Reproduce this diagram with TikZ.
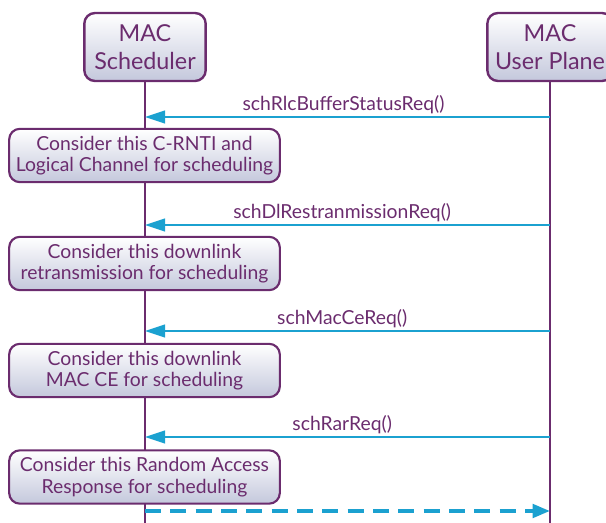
\documentclass[tikz,border=0pt]{standalone}
\usepackage{fontspec}
\setmainfont{Lato}
\usetikzlibrary{arrows.meta}
\definecolor{macpurple}{HTML}{6B2C6E}
\definecolor{msgblue}{HTML}{1BA1D0}
\definecolor{boxbottom}{HTML}{C4C8DC}
\tikzset{
  entity/.style={draw=macpurple,line width=1.8pt,rounded corners=8pt,top color=white,bottom color=boxbottom,
    text=macpurple,align=center,font=\fontsize{17.5}{21.5}\selectfont,minimum height=51pt,inner sep=0pt},
  action/.style={draw=macpurple,line width=1.6pt,rounded corners=8pt,top color=white,bottom color=boxbottom,
    text=macpurple,align=center,font=\fontsize{14.5}{16}\selectfont,minimum width=203pt,minimum height=40pt,inner sep=0pt},
  lifeline/.style={draw=macpurple,line width=1.5pt},
  msg/.style={draw=msgblue,line width=1.5pt,-{Triangle[length=15pt,width=9.5pt]}},
  msglabel/.style={text=macpurple,font=\fontsize{14.5}{16}\selectfont,above,inner sep=1.5pt},
}
\begin{document}
\begin{tikzpicture}[x=0.75pt,y=-0.75pt]
\clip (0,0) rectangle (606,523);
\useasboundingbox (0,0) rectangle (606,523);
% the two lifelines
\coordinate (schbot) at (145,530);
\coordinate (upbot) at (550,530);
\draw[lifeline] (145,81) -- (schbot);
\draw[lifeline] (550,81) -- (upbot);
\node[entity,minimum width=91pt] (sched) at (145,47) {MAC\\Scheduler};
\node[entity,minimum width=94pt] (uplane) at (550,47) {MAC\\User Plane};
% requests from the user plane
\coordinate (up1) at (550,117); \coordinate (sch1) at (145,117);
\coordinate (up2) at (550,225); \coordinate (sch2) at (145,225);
\coordinate (up3) at (550,331); \coordinate (sch3) at (145,331);
\coordinate (up4) at (550,437); \coordinate (sch4) at (145,437);
\coordinate (sch5) at (145,511); \coordinate (up5) at (550,511);
\draw[msg] (up1) -- (sch1) node[midway,msglabel,xshift=-3pt] {schRlcBufferStatusReq()};
\node[action] (cons1) at (144.5,155.5) {Consider this C-RNTI and\\Logical Channel for scheduling};
\draw[msg] (up2) -- (sch2) node[midway,msglabel,xshift=-4pt] {schDlRestranmissionReq()};
\node[action] (cons2) at (144.5,263.5) {Consider this downlink\\retransmission for scheduling};
\draw[msg] (up3) -- (sch3) node[midway,msglabel,xshift=-4pt] {schMacCeReq()};
\node[action] (cons3) at (144.5,370.5) {Consider this downlink\\MAC CE for scheduling};
\draw[msg] (up4) -- (sch4) node[midway,msglabel,xshift=-4pt] {schRarReq()};
\node[action] (cons4) at (144.5,477) {Consider this Random Access\\Response for scheduling};
\draw[msg,line width=2.8pt,dash pattern=on 12pt off 7pt,-{Triangle[length=13pt,width=10pt]}] (sch5) -- (up5);
\end{tikzpicture}
\end{document}
